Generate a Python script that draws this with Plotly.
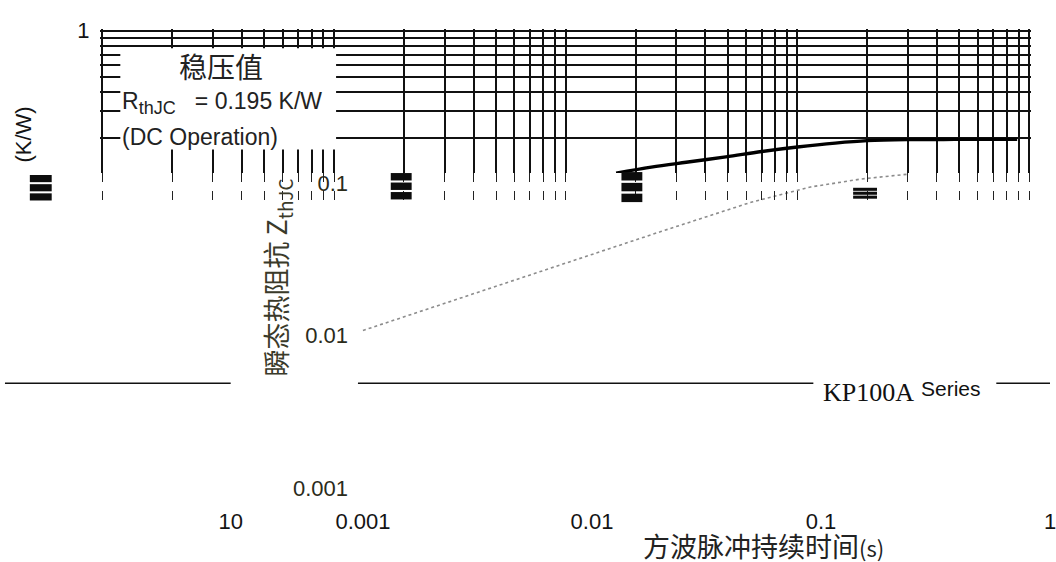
import plotly.graph_objects as go

W, H = 1056, 562

# ---- data ----
pulse_s = [0.0165, 0.0234, 0.0331, 0.0491, 0.0701, 0.1, 0.1456, 0.2, 0.2965, 0.4766, 0.888]
zth_kw = [0.119, 0.1302, 0.1401, 0.1519, 0.1646, 0.1759, 0.1865, 0.1934, 0.1965, 0.197, 0.197]

ghost_pulse_s = [0.001, 0.002, 0.005, 0.01, 0.02, 0.05, 0.09, 0.15, 0.24]
ghost_zth_kw = [0.0108, 0.0152, 0.024, 0.034, 0.048, 0.075, 0.094, 0.106, 0.114]

grid_x_vals = [m * 10.0 ** e for e in range(-4, 0) for m in range(1, 10)] + [1.0]
grid_y_vals = [0.2, 0.3, 0.4, 0.5, 0.6, 0.7, 0.8, 0.9, 1.0]
grid_y_text = [" ", " ", " ", " ", " ", " ", " ", " ", "1"]

x_tick_vals = [0.000265, 0.001, 0.01, 0.1, 1]
x_tick_text = ["10", "0.001", "0.01", "0.1", "1"]
y_tick_vals = [0.1, 0.01, 0.001]
y_tick_text = ["0.1", "0.01", "0.001"]

SANS = "Liberation Sans, Arial, sans-serif"
CJK = "Noto Sans CJK SC, sans-serif"
SERIF = "Liberation Serif, Times New Roman, serif"
INK = "#141414"


def fx(px):
    return px / W


def fy(py):
    return 1 - py / H


fig = go.Figure()

fig.add_trace(go.Scatter(x=pulse_s, y=zth_kw, mode="lines",
                         line=dict(color="#000", width=3.4, shape="spline", smoothing=1.0),
                         xaxis="x", yaxis="y", hoverinfo="skip"))
fig.add_trace(go.Scatter(x=ghost_pulse_s, y=ghost_zth_kw, mode="lines",
                         line=dict(color="#8c8c8c", width=1.6, dash="dot"),
                         xaxis="x2", yaxis="y2", hoverinfo="skip"))
fig.add_trace(go.Scatter(x=[0.001], y=[0.5], mode="markers", marker=dict(opacity=0),
                         xaxis="x3", yaxis="y3", hoverinfo="skip"))

XDEC = 233.0
YDEC = 157.0
PAD = 2.0
grid_common = dict(showgrid=True, gridcolor="#111", gridwidth=1.6, zeroline=False, showline=False)

layout = dict(
    width=W, height=H, margin=dict(l=0, r=0, t=0, b=0),
    paper_bgcolor="white", plot_bgcolor="rgba(0,0,0,0)", showlegend=False,
    xaxis=dict(type="log", domain=[fx(103 - PAD), fx(1035 + PAD)], range=[-4 - PAD / XDEC, PAD / XDEC],
               tickvals=grid_x_vals, showticklabels=False, ticks="", anchor="y", **grid_common),
    yaxis=dict(type="log", domain=[fy(166), fy(21 - PAD)], range=[-(166 - 21) / YDEC, PAD / YDEC],
               tickvals=grid_y_vals, ticktext=grid_y_text, ticks="", anchor="x",
               tickfont=dict(family=SANS, size=22, color=INK), ticklabelstandoff=10, **grid_common),
    xaxis3=dict(type="log", domain=[fx(103 - PAD), fx(1035 + PAD)], range=[-4 - PAD / XDEC, PAD / XDEC],
                tickvals=grid_x_vals, showticklabels=False, ticks="", anchor="y3",
                showgrid=True, gridcolor="#222", gridwidth=1.3, griddash="dash", zeroline=False),
    yaxis3=dict(domain=[fy(200), fy(166)], range=[0, 1], showgrid=False, showticklabels=False,
                zeroline=False, anchor="x3"),
    xaxis2=dict(type="log", domain=[0, 1], range=[-3 - 365 / ((1056 - 365) / 3), 0],
                tickvals=x_tick_vals, ticktext=x_tick_text, showgrid=False, zeroline=False,
                ticks="", anchor="y2", ticklabeloverflow="allow",
                tickfont=dict(family=SANS, size=22, color=INK)),
    yaxis2=dict(type="log", domain=[fy(505), fy(160)],
                range=[-1 - (505 - 176) / 155.5, -1 + (176 - 160) / 155.5],
                tickvals=y_tick_vals, ticktext=y_tick_text, showgrid=False, zeroline=False,
                ticks="", anchor="free", position=fx(350), ticklabelstandoff=0,
                tickfont=dict(family=SANS, size=22, color="#2b2b1a")),
)
fig.update_layout(**layout)

shapes = []
# white label box over the grid
shapes.append(dict(type="rect", xref="paper", yref="paper", x0=fx(121), x1=fx(338), y0=fy(142), y1=fy(39),
                   fillcolor="white", line=dict(width=0), layer="above"))
# separator line segments
for x0, x1 in [(5, 232), (360, 818), (1002, 1056)]:
    shapes.append(dict(type="line", xref="paper", yref="paper", x0=fx(x0), x1=fx(x1), y0=fy(380), y1=fy(380),
                       line=dict(color="#111", width=1.5), layer="above"))
# dark striped blocks in the scan band
for bx0, bx1, by0, by1 in [(30, 52, 168, 196), (393, 414, 166, 195), (625, 646, 165, 198), (858, 882, 181, 193)]:
    n = 3
    step = (by1 - by0) / n
    for k in range(n):
        shapes.append(dict(type="rect", xref="paper", yref="paper", x0=fx(bx0), x1=fx(bx1),
                           y0=fy(by0 + k * step + step * 0.78), y1=fy(by0 + k * step),
                           fillcolor="#0d0d0d", line=dict(width=0), layer="above"))
fig.update_layout(shapes=shapes)

NB = "\u00a0"
ann = []
ann.append(dict(text="稳压值", x=fx(222), y=fy(57), font=dict(family=CJK, size=28, color="#222")))
ann.append(dict(text="R<sub><span style='font-size:18px'>thJC</span></sub>" + NB * 3 + "= 0.195 K/W",
                x=fx(121), y=fy(95), xanchor="left", font=dict(family=SANS, size=23, color="#222")))
ann.append(dict(text="(DC Operation)", x=fx(121), y=fy(129), xanchor="left",
                font=dict(family=SANS, size=23, color="#222")))
ann.append(dict(text="(K/W)", x=fx(24), y=fy(127), textangle=-90, font=dict(family=SANS, size=22, color=INK)))
ann.append(dict(text="瞬态热阻抗 Z<sub>thJC</sub>", x=fx(279), y=fy(272), textangle=-90,
                font=dict(family=CJK, size=27, color="#3a3a2a")))
ann.append(dict(text="方波脉冲持续时间<span style='font-size:22px'>(s)</span>", x=fx(768), y=fy(545),
                font=dict(family=CJK, size=27, color="#222")))
ann.append(dict(text="KP100A", x=fx(826), y=fy(389), xanchor="left", font=dict(family=SERIF, size=26, color="#111")))
ann.append(dict(text="Series", x=fx(924), y=fy(385), xanchor="left", font=dict(family=SANS, size=21, color="#111")))
for a in ann:
    a.update(xref="paper", yref="paper", showarrow=False)
    a.setdefault("xanchor", "center")
    a.setdefault("yanchor", "middle")
fig.update_layout(annotations=ann)

fig.write_html("out.html")
